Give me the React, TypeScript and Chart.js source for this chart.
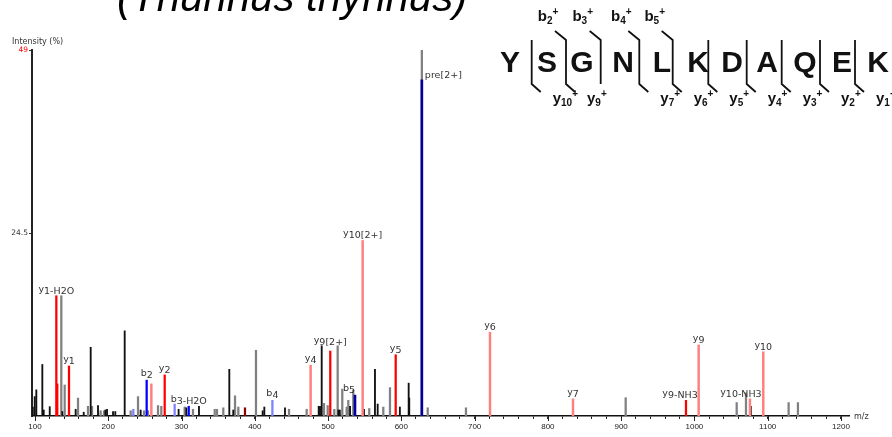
import React, { useEffect, useRef } from "react";
import { Chart, registerables } from "chart.js";

Chart.register(...registerables);

// ---------------- data: MS/MS spectrum (m/z, relative intensity %) ----------------
const blackMz = [97, 99.6, 101.8, 110.0, 111.9, 120.1, 137.3, 155.5, 166.5, 176.0, 186.0, 196.0, 198.3, 206.5, 209.6, 222.4, 244.2, 296.0, 306.5, 323.8, 365.2, 370.6, 410.7, 413.0, 441.2, 487.2, 489.0, 491.3, 514.0, 516.0, 530.0, 549.0, 564.0, 567.7, 598.0, 610.0, 610.8, 1077.0];
const blackInt = [1.2, 2.6, 3.5, 6.9, 0.8, 1.25, 0.6, 0.9, 0.5, 9.2, 1.4, 0.8, 0.9, 0.6, 0.6, 11.4, 0.8, 0.9, 1.1, 1.3, 6.25, 0.8, 0.7, 1.2, 1.1, 1.3, 1.3, 9.4, 0.8, 0.8, 1.3, 0.9, 6.25, 1.6, 1.2, 4.4, 2.4, 1.3];

const grayMz = [135.9, 140.5, 158.7, 172.3, 177.8, 189.6, 194.2, 230.6, 240.6, 248.8, 254.2, 267.9, 272.4, 304.3, 315.6, 345.3, 348.4, 357.0, 373.0, 377.5, 401.6, 446.7, 470.8, 494.4, 499.5, 508.5, 513.1, 519.4, 525.4, 527.6, 534.4, 556.2, 575.4, 584.5, 628.0, 636.0, 688.2, 906.2, 1057.7, 1070.4, 1128.6, 1141.3];
const grayInt = [16.1, 4.15, 2.4, 1.3, 1.3, 0.7, 0.7, 0.7, 2.6, 0.7, 0.7, 1.4, 1.3, 1.2, 0.9, 0.9, 0.9, 1.1, 2.7, 1.2, 8.8, 0.9, 0.9, 1.7, 1.4, 0.9, 9.4, 3.6, 1.2, 2.1, 3.5, 1.0, 1.2, 3.8, 49.0, 1.1, 1.1, 2.45, 1.8, 3.1, 1.8, 1.8];

const redMz = [129.1, 130.4, 146.4, 277.0, 503.0, 592.3, 988.5];
const redInt = [16.1, 4.3, 6.7, 5.5, 8.7, 8.2, 2.1];
const redLabels = ["y1-H2O", "", "y1", "y2", "y9[2+]", "y5", "y9-NH3"];

const pinkMz = [258.8, 476.2, 547.2, 721.0, 834.3, 1005.8, 1075.8, 1094.0];
const pinkInt = [4.3, 6.8, 23.5, 11.2, 2.3, 9.5, 2.3, 8.6];
const pinkLabels = ["", "y4", "y10[2+]", "y6", "y7", "y9", "y10-NH3", "y10"];

const blueMz = [252.4, 309.8];
const blueInt = [4.8, 1.3];
const blueLabels = ["b2", "b3-H2O"];

const lightBlueMz = [234.2, 290.6, 424.0];
const lightBlueInt = [0.9, 1.6, 2.1];
const lightBlueLabels = ["", "", "b4"];

const navyMz = [536.7, 628.0];
const navyInt = [2.8, 45.0];
const navyLabels = ["b5", "pre[2+]"];

const darkRedMz = [386.6];
const darkRedInt = [1.1];

// axis ticks
const xMajorTicks = [100, 200, 300, 400, 500, 600, 700, 800, 900, 1000, 1100, 1200];
const yTickValues = [24.5, 49];

// peptide fragment map
const TITLE = "(Thunnus thynnus)";
const SEQUENCE = ["Y", "S", "G", "N", "L", "K", "D", "A", "Q", "E", "K"];
const B_IONS = [2, 3, 4, 5];
const Y_IONS = [10, 9, 7, 6, 5, 4, 3, 2, 1];

// ---------------- layout (positions / styles) ----------------
const LETTER_X = [510, 547, 582, 623, 662, 698, 732, 767, 805, 842, 878];
const SEP_X = [531.7, 566, 600.7, 639.3, 672.7, 708.3, 746.7, 781.7, 820, 855];
const LABEL_NUDGE: Record<string, [number, number]> = {
  "y10-NH3": [-9, 0],
  "y9-NH3": [-6, 0],
  b5: [-6, 0],
  "y9[2+]": [0, -4],
};
const SIDE_LABELS = new Set(["pre[2+]"]);

const pts = (xs: number[], ys: number[]) => xs.map((x, i) => ({ x, y: ys[i] }));

function drawPeakLabel(ctx: CanvasRenderingContext2D, label: string, x: number, top: number) {
  ctx.save();
  ctx.fillStyle = "#333";
  ctx.textBaseline = "alphabetic";
  ctx.font = '9.5px "DejaVu Sans", Verdana, sans-serif';
  if (SIDE_LABELS.has(label)) {
    ctx.textAlign = "left";
    ctx.fillText(label, x + 3, top - 2);
    ctx.restore();
    return;
  }
  const nudge = LABEL_NUDGE[label] || [0, 0];
  const m = /^([yb])(\d.*)$/.exec(label);
  const head = m ? m[1] : label;
  const rest = m ? m[2] : "";
  const wh = ctx.measureText(head).width;
  const wr = ctx.measureText(rest).width;
  const left = x + nudge[0] - (wh + wr) / 2;
  const base = top - 2 + nudge[1];
  ctx.textAlign = "left";
  ctx.fillText(head, left, base - 2);
  if (rest) ctx.fillText(rest, left + wh, base);
  ctx.restore();
}

function drawIonLabel(ctx: CanvasRenderingContext2D, ion: string, num: string, x: number, base: number, align: "left" | "center") {
  ctx.save();
  ctx.fillStyle = "#111";
  ctx.textAlign = "left";
  ctx.textBaseline = "alphabetic";
  const big = 'bold 15px "Liberation Sans", Arial, sans-serif';
  const small = 'bold 10px "Liberation Sans", Arial, sans-serif';
  ctx.font = big;
  const w1 = ctx.measureText(ion).width;
  ctx.font = small;
  const w2 = ctx.measureText(num).width;
  const w3 = ctx.measureText("+").width;
  const total = w1 + w2 + w3;
  const lx = align === "center" ? x - total / 2 : x;
  ctx.font = big;
  ctx.fillText(ion, lx, base);
  ctx.font = small;
  ctx.fillText(num, lx + w1, base + 3);
  ctx.fillText("+", lx + w1 + w2, base - 6);
  ctx.restore();
}

function drawSequence(ctx: CanvasRenderingContext2D) {
  ctx.save();
  ctx.fillStyle = "#111";
  ctx.font = 'bold 30px "Liberation Sans", Arial, sans-serif';
  ctx.textAlign = "center";
  ctx.textBaseline = "alphabetic";
  SEQUENCE.forEach((c, i) => ctx.fillText(c, LETTER_X[i], 72));
  ctx.strokeStyle = "#111";
  ctx.lineWidth = 1.8;
  SEP_X.forEach((sx, i) => {
    const cut = i + 1;
    const yIdx = SEQUENCE.length - cut;
    const hasB = B_IONS.includes(cut);
    const hasY = Y_IONS.includes(yIdx);
    ctx.beginPath();
    if (hasB) {
      ctx.moveTo(sx - 11, 31);
      ctx.lineTo(sx, 40);
    } else {
      ctx.moveTo(sx, 40);
    }
    ctx.lineTo(sx, 84);
    if (hasY) ctx.lineTo(sx + 9, 92);
    ctx.stroke();
    if (hasB) drawIonLabel(ctx, "b", String(cut), sx - 18, 21, "center");
    if (hasY) drawIonLabel(ctx, "y", String(yIdx), sx + 21, 103, "left");
  });
  ctx.restore();
}

function drawTitle(ctx: CanvasRenderingContext2D) {
  ctx.save();
  ctx.fillStyle = "#000";
  ctx.textAlign = "left";
  ctx.textBaseline = "alphabetic";
  ctx.font = 'italic 40px "Liberation Sans", Arial, sans-serif';
  const w = ctx.measureText(TITLE).width;
  const size = (40 * 350) / w;
  ctx.font = `italic ${size.toFixed(1)}px "Liberation Sans", Arial, sans-serif`;
  ctx.fillText(TITLE, 117, 11);
  ctx.restore();
}

const overlayPlugin = {
  id: "overlay",
  afterDatasetsDraw(chart: any) {
    const ctx = chart.ctx as CanvasRenderingContext2D;
    chart.data.datasets.forEach((ds: any, di: number) => {
      const labels: string[] | undefined = ds.peakLabels;
      if (!labels) return;
      const meta = chart.getDatasetMeta(di);
      meta.data.forEach((el: any, i: number) => {
        if (labels[i]) drawPeakLabel(ctx, labels[i], el.x, el.y);
      });
    });
  },
  afterDraw(chart: any) {
    const ctx = chart.ctx as CanvasRenderingContext2D;
    const xs = chart.scales.x;
    const area = chart.chartArea;
    ctx.save();
    ctx.strokeStyle = "#222";
    ctx.lineWidth = 1;
    xMajorTicks.forEach((v) => {
      const px = Math.round(xs.getPixelForValue(v)) + 0.5;
      ctx.beginPath();
      ctx.moveTo(px, area.bottom);
      ctx.lineTo(px, area.bottom + 5);
      ctx.stroke();
    });
    ctx.fillStyle = "#333";
    ctx.font = '8px "DejaVu Sans", Verdana, sans-serif';
    ctx.textAlign = "left";
    ctx.textBaseline = "alphabetic";
    ctx.fillText("Intensity (%)", 12, 43.5);
    ctx.textBaseline = "middle";
    ctx.fillText("m/z", area.right + 5, area.bottom + 1);
    ctx.restore();
    drawTitle(ctx);
    drawSequence(ctx);
  },
};

export default function App() {
  const ref = useRef<HTMLCanvasElement>(null);

  useEffect(() => {
    const canvas = ref.current;
    if (!canvas) return;
    const mk = (data: any, color: string, thickness: number, labels?: string[]) => ({
      data,
      backgroundColor: color,
      borderWidth: 0,
      barThickness: thickness,
      grouped: false,
      peakLabels: labels,
    });
    const chart = new Chart(canvas, {
      type: "bar",
      data: {
        datasets: [
          mk(pts(navyMz, navyInt), "#0000a0", 2, navyLabels),
          mk(pts(blueMz, blueInt), "#0000ff", 1.6, blueLabels),
          mk(pts(lightBlueMz, lightBlueInt), "#7f7fff", 1.6, lightBlueLabels),
          mk(pts(redMz, redInt), "#ff0000", 1.6, redLabels),
          mk(pts(pinkMz, pinkInt), "#ff7f7f", 1.8, pinkLabels),
          mk(pts(darkRedMz, darkRedInt), "#8b0000", 1.6),
          mk(pts(blackMz, blackInt), "#111111", 1.2),
          mk(pts(grayMz, grayInt), "#808080", 1.6),
        ] as any,
      },
      options: {
        responsive: false,
        animation: false,
        events: [],
        layout: { padding: { left: 0, right: 43, top: 50, bottom: 0 } },
        plugins: { legend: { display: false }, tooltip: { enabled: false } },
        scales: {
          x: {
            type: "linear",
            min: 95.9,
            max: 1211,
            offset: false,
            afterFit: (s: any) => {
              s.height = 21;
            },
            afterBuildTicks: (s: any) => {
              const t: { value: number }[] = [];
              for (let v = xMajorTicks[0]; v <= xMajorTicks[xMajorTicks.length - 1]; v += 20) t.push({ value: v });
              s.ticks = t;
            },
            ticks: {
              autoSkip: false,
              maxRotation: 0,
              padding: 3,
              color: "#222",
              font: { family: '"Liberation Sans", Arial, sans-serif', size: 8 },
              callback: (v: any) => (xMajorTicks.includes(Number(v)) ? String(v) : ""),
            },
            grid: { drawOnChartArea: false, drawTicks: true, tickLength: 3, color: "#222", offset: false },
            border: { color: "#111", width: 1.5 },
          },
          y: {
            min: 0,
            max: 49,
            afterFit: (s: any) => {
              s.width = 32;
            },
            afterBuildTicks: (s: any) => {
              s.ticks = yTickValues.map((v) => ({ value: v }));
            },
            ticks: {
              padding: 1,
              color: (c: any) => (c.tick && c.tick.value === 49 ? "#ff0000" : "#333"),
              font: { family: '"DejaVu Sans", Verdana, sans-serif', size: 7.5 },
              callback: (v: any) => String(v),
            },
            grid: { drawOnChartArea: false, drawTicks: true, tickLength: 3, color: "#333" },
            border: { color: "#222", width: 2 },
          },
        },
      } as any,
      plugins: [overlayPlugin],
    });
    return () => chart.destroy();
  }, []);

  return (
    <div style={{ position: "absolute", left: 0, top: 0, width: 892, height: 437, background: "#fff" }}>
      <canvas ref={ref} width={892} height={437} style={{ display: "block", width: 892, height: 437 }} />
    </div>
  );
}
